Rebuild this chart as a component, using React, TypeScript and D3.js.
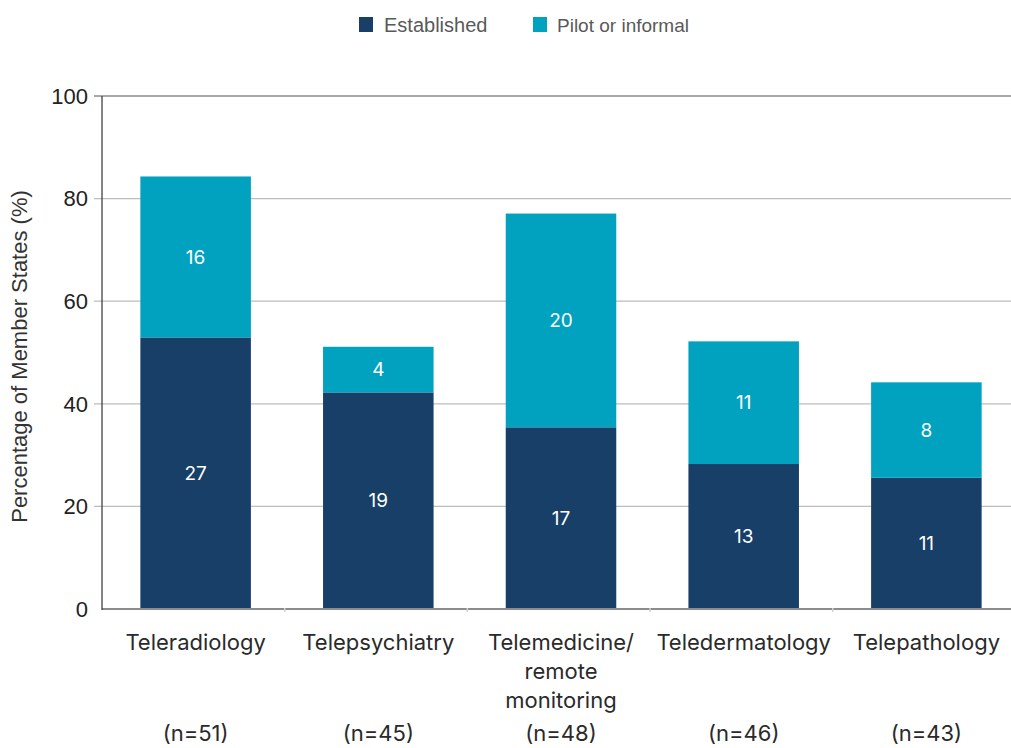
import React from "react";
import * as d3 from "d3";

const categories = ["Teleradiology", "Telepsychiatry", "Telemedicine/\nremote\nmonitoring", "Teledermatology", "Telepathology"];
const sampleSizes = [51, 45, 48, 46, 43];
const establishedCounts = [27, 19, 17, 13, 11];
const pilotCounts = [16, 4, 20, 11, 8];
const yTicks = [0, 20, 40, 60, 80, 100];
const seriesNames = ["Established", "Pilot or informal"];
const seriesColors = ["#173f67", "#00a2c0"];

const W = 1011;
const H = 748;
const left = 102;
const right = 1020;
const top = 96;
const bottom = 609;

export default function App() {
  const x = d3.scaleBand<number>().domain(d3.range(categories.length)).range([left, right]).paddingInner(0.395).paddingOuter(0.21);
  const y = d3.scaleLinear().domain([0, 100]).range([bottom, top]);

  const rows = categories.map((c, i) => ({
    i,
    est: (establishedCounts[i] / sampleSizes[i]) * 100,
    pil: (pilotCounts[i] / sampleSizes[i]) * 100,
  }));
  const stack = d3.stack<any>().keys(["est", "pil"])(rows as any);
  const counts = [establishedCounts, pilotCounts];

  const step = x.step();
  const sansLib = "'Liberation Sans', Arial, sans-serif";
  const inter = "Inter, 'Noto Sans', sans-serif";

  return (
    <svg width={W} height={H} style={{ position: "absolute", left: 0, top: 0, background: "#fff" }}>
      {/* legend */}
      <g>
        <rect x={359} y={17} width={14} height={15} fill={seriesColors[0]} />
        <text x={384} y={32} fontFamily={sansLib} fontSize={20} fill="#595959">{seriesNames[0]}</text>
        <rect x={533} y={17} width={14} height={15} fill={seriesColors[1]} />
        <text x={557} y={32} fontFamily={sansLib} fontSize={19} fill="#595959">{seriesNames[1]}</text>
      </g>

      {/* gridlines */}
      {yTicks.filter((t) => t > 0 && t < 100).map((t) => (
        <line key={t} x1={left - 8} x2={W} y1={y(t)} y2={y(t)} stroke="#bdbdbd" strokeWidth={1.2} />
      ))}
      <line x1={left - 8} x2={W} y1={y(100)} y2={y(100)} stroke="#a8a8a8" strokeWidth={2} />

      {/* bars */}
      {stack.map((layer, si) =>
        layer.map((d, i) => {
          const x0 = x(i)!;
          const y0 = y(d[1]);
          const h = y(d[0]) - y(d[1]);
          return (
            <g key={`${si}-${i}`}>
              <rect x={x0} y={y0} width={x.bandwidth()} height={h} fill={seriesColors[si]} />
              <text
                x={x0 + x.bandwidth() / 2}
                y={y0 + h / 2}
                dy="0.35em"
                textAnchor="middle"
                fontFamily={inter}
                fontSize={19}
                fill="#fff"
              >
                {counts[si][i]}
              </text>
            </g>
          );
        })
      )}

      {/* axes */}
      <line x1={left} x2={W} y1={bottom} y2={bottom} stroke="#8c8c8c" strokeWidth={2} />
      {d3.range(1, categories.length).map((k) => (
        <line key={k} x1={left + k * step} x2={left + k * step} y1={bottom - 1} y2={bottom + 3} stroke="#d0d0d0" strokeWidth={1.5} />
      ))}
      <line x1={left} x2={left} y1={top} y2={bottom + 1} stroke="#333" strokeWidth={1.2} />
      {yTicks.map((t) => (
        <text key={t} x={88} y={y(t)} dy="0.35em" textAnchor="end" fontFamily={sansLib} fontSize={22} fill="#222">
          {t}
        </text>
      ))}
      <text
        transform={`translate(27,${(top + bottom) / 2 + 4}) rotate(-90)`}
        textAnchor="middle"
        fontFamily={sansLib}
        fontSize={22}
        fill="#333"
      >
        Percentage of Member States (%)
      </text>

      {/* x labels */}
      {categories.map((c, i) => {
        const cx = x(i)! + x.bandwidth() / 2;
        return (
          <g key={c}>
            {c.split("\n").map((line, li) => (
              <text key={li} x={cx} y={642 + li * 29} dy="0.35em" textAnchor="middle" fontFamily={inter} fontSize={22} fill="#2a2a2a">
                {line}
              </text>
            ))}
            <text x={cx} y={733} dy="0.35em" textAnchor="middle" fontFamily={inter} fontSize={22} fill="#2a2a2a">
              (n={sampleSizes[i]})
            </text>
          </g>
        );
      })}
    </svg>
  );
}
